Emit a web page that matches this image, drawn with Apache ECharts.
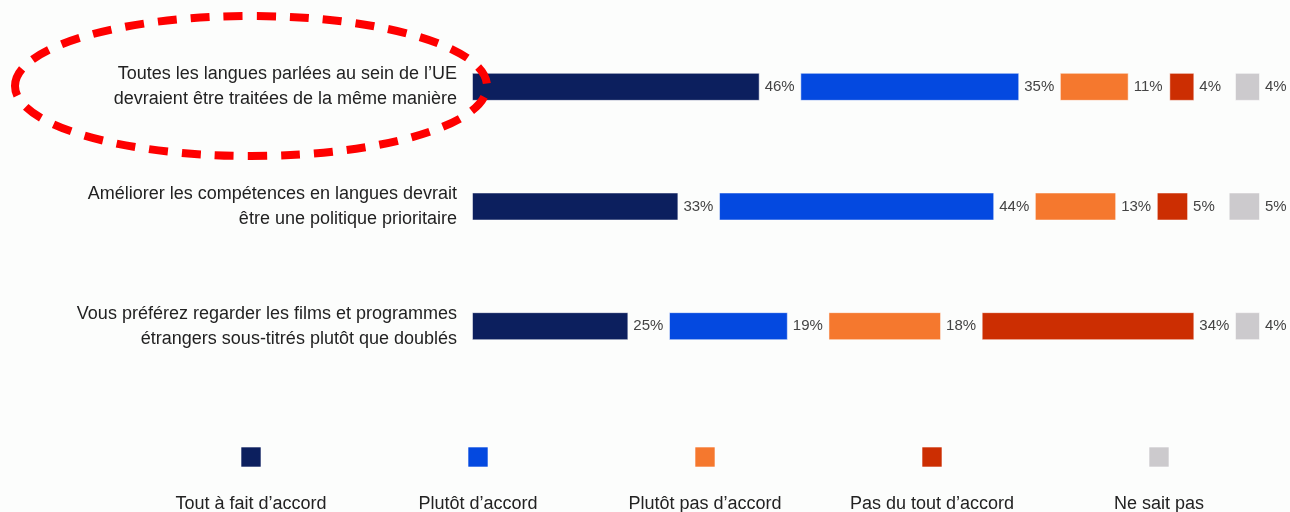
<!DOCTYPE html>
<html>
<head>
<meta charset="utf-8">
<script src="https://cdn.jsdelivr.net/npm/echarts@6/dist/echarts.min.js"></script>
<style>
  html, body { margin: 0; padding: 0; background: #fcfdfc; }
  #chart { width: 1290px; height: 512px; }
</style>
</head>
<body>
<div id="chart"></div>
<script>
// questions (top to bottom)
const categories = [
  "Toutes les langues parlées au sein de l’UE\ndevraient être traitées de la même manière",
  "Améliorer les compétences en langues devrait\nêtre une politique prioritaire",
  "Vous préférez regarder les films et programmes\nétrangers sous-titrés plutôt que doublés"
];
const seriesNames = ["Tout à fait d’accord", "Plutôt d’accord", "Plutôt pas d’accord", "Pas du tout d’accord", "Ne sait pas"];
const colors = ["#0c1f5e", "#0449e0", "#f5782e", "#cc2e02", "#cccacd"];
// values per answer, one entry per question
const toutAFait = [46, 33, 25];
const plutotAccord = [35, 44, 19];
const plutotPas = [11, 13, 18];
const pasDuTout = [4, 5, 34];
const neSaitPas = [4, 5, 4];
const values = [toutAFait, plutotAccord, plutotPas, pasDuTout, neSaitPas];

// empty space between segments (room for the % label), in axis units
const GAP = 6.5;
const FONT = "Liberation Sans, Arial, sans-serif";

let series = [];
values.forEach((vals, i) => {
  series.push({
    name: seriesNames[i],
    type: "bar",
    stack: "total",
    barWidth: 28,
    itemStyle: { color: colors[i], borderColor: "rgba(255,255,255,0.5)", borderWidth: 1 },
    label: {
      show: true,
      position: "right",
      distance: 5,
      formatter: "{c}%",
      color: "#444",
      fontSize: 15,
      fontFamily: FONT,
    },
    data: vals,
  });
  if (i < values.length - 1) {
    // transparent spacer
    series.push({
      name: "gap" + i,
      type: "bar",
      stack: "total",
      silent: true,
      itemStyle: { color: "transparent" },
      data: vals.map(() => GAP),
    });
  }
});

// legend: square above the name, drawn as graphic elements
const legendGraphics = [];
seriesNames.forEach((name, i) => {
  const cx = 251 + i * 227;
  legendGraphics.push({
    type: "rect",
    shape: { x: cx - 10, y: 447, width: 20, height: 20 },
    style: { fill: colors[i], stroke: "rgba(255,255,255,0.6)", lineWidth: 1 },
  });
  legendGraphics.push({
    type: "text",
    x: cx,
    y: 504,
    style: {
      text: name,
      fill: "#222",
      fontSize: 18,
      fontFamily: FONT,
      align: "center",
      verticalAlign: "middle",
    },
  });
});

let myChart = echarts.init(document.getElementById("chart"));
myChart.setOption({
  backgroundColor: "#fcfdfc",
  animation: false,
  grid: {
    left: 472,
    right: 30,
    top: 27,
    height: 359,
  },
  xAxis: {
    type: "value",
    min: 0,
    max: 100 + GAP * 4,
    show: false,
  },
  yAxis: {
    type: "category",
    inverse: true,
    data: categories,
    axisLine: { show: false },
    axisTick: { show: false },
    splitLine: { show: false },
    axisLabel: {
      margin: 15,
      color: "#222",
      fontSize: 18,
      lineHeight: 25,
      align: "right",
      fontFamily: FONT,
    },
  },
  series: series,
  graphic: legendGraphics.concat([
    {
      type: "ellipse",
      z: 100,
      shape: { cx: 251, cy: 86, rx: 236, ry: 70 },
      style: {
        fill: "none",
        stroke: "#fe0000",
        lineWidth: 8,
        lineDash: [19, 14],
      },
    },
  ]),
});
</script>
</body>
</html>
